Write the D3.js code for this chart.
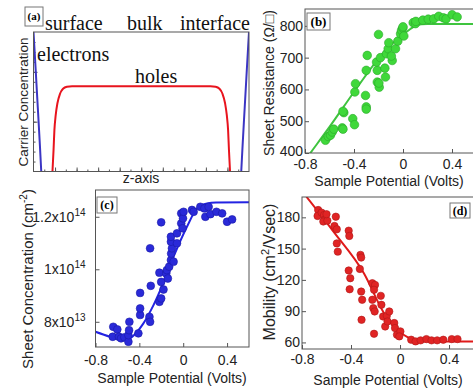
<!DOCTYPE html>
<html>
<head>
<meta charset="utf-8">
<script src="https://cdn.jsdelivr.net/npm/d3@7"></script>
<style>
  body { margin: 0; background: #fff; }
  svg { display: block; font-family: "Liberation Sans", Arial, "DejaVu Sans", sans-serif; }
  .tick text { font-size: 14px; fill: #222; }
  .tick line { stroke: #555; }
  .serif { font-family: "Liberation Serif", "Times New Roman", serif; }
</style>
</head>
<body>
<div id="chart"></div>
<script>
// ---- panel (a): carrier profiles, [z, concentration] ----
const electronsLeft = [[0, 2.8], [0.1, 2.05], [0.2, 1.28], [0.3, 0.5], [0.36, 0]];
const electronsRight = [[9.64, 0], [9.7, 0.5], [9.8, 1.28], [9.9, 2.05], [10, 2.8]];
const holes = [[0.88, 0], [0.93, 0.43], [0.97, 0.83], [1.03, 1.13], [1.11, 1.37], [1.23, 1.56],
  [1.37, 1.66], [1.55, 1.70], [1.79, 1.71], [5, 1.71], [8.21, 1.71], [8.45, 1.70], [8.63, 1.66],
  [8.77, 1.56], [8.89, 1.37], [8.97, 1.13], [9.03, 0.83], [9.07, 0.43], [9.12, 0]];
const regionLabels = ["surface", "bulk", "interface"];

// ---- panel (b): sheet resistance vs sample potential ----
const bPoints = [[-0.633, 440], [-0.61, 452], [-0.592, 456], [-0.578, 466], [-0.565, 475], [-0.496, 479],
  [-0.49, 475], [-0.483, 527], [-0.49, 531], [-0.41, 508], [-0.396, 489], [-0.393, 592], [-0.388, 618],
  [-0.306, 581], [-0.3, 545], [-0.3, 538], [-0.3, 660], [-0.292, 707], [-0.21, 623], [-0.194, 607],
  [-0.197, 620], [-0.21, 660], [-0.2, 773], [-0.216, 686], [-0.184, 700], [-0.143, 639], [-0.148, 667],
  [-0.135, 712], [-0.121, 728], [-0.116, 747], [-0.088, 691], [-0.095, 705], [-0.061, 728], [-0.042, 752],
  [-0.02, 775], [-0.012, 786], [-0.002, 793], [0.007, 768], [0.0, 797], [0.083, 810], [0.102, 807],
  [0.105, 814], [0.162, 818], [0.206, 821], [0.251, 822], [0.292, 830], [0.33, 825], [0.352, 822],
  [0.401, 835], [0.442, 828]];
const bFit = [[-0.8, 377], [-0.76, 398], [-0.6, 482], [-0.4, 592], [-0.2, 697], [-0.1, 740], [-0.02, 765],
  [0.06, 790], [0.1, 800], [0.15, 805], [0.2, 806], [0.6, 806]];
const bYTicks = [400, 500, 600, 700, 800];

// ---- panel (c): sheet concentration (units of 1e13 cm^-2) ----
const cPoints = [[-0.638, 7.81], [-0.601, 7.71], [-0.643, 7.43], [-0.586, 7.43], [-0.567, 7.37], [-0.537, 7.41],
  [-0.5, 7.24], [-0.5, 7.49], [-0.494, 7.68], [-0.491, 8.0], [-0.409, 7.56], [-0.393, 8.26], [-0.393, 8.51],
  [-0.393, 9.10], [-0.308, 8.19], [-0.302, 8.0], [-0.296, 9.37], [-0.302, 10.8], [-0.217, 8.76], [-0.201, 8.89],
  [-0.18, 9.23], [-0.201, 9.52], [-0.217, 9.87], [-0.201, 11.79], [-0.155, 9.84], [-0.149, 9.97], [-0.14, 9.65],
  [-0.128, 10.1], [-0.112, 10.35], [-0.11, 10.6], [-0.103, 10.8], [-0.112, 11.05], [-0.112, 11.24], [-0.088, 10.29],
  [-0.057, 10.99], [-0.057, 11.37], [-0.018, 11.75], [-0.018, 12.13], [-0.002, 11.94], [-0.006, 11.56],
  [0.003, 12.19], [0.08, 12.26], [0.095, 12.19], [0.156, 12.38], [0.193, 12.32], [0.202, 12.0], [0.232, 12.38],
  [0.248, 12.1], [0.303, 12.19], [0.355, 12.13], [0.4, 11.81], [0.446, 11.9]];
const cFit = [[-0.8, 7.62], [-0.668, 7.43], [-0.592, 7.34], [-0.515, 7.34], [-0.363, 7.94], [-0.286, 8.51],
  [-0.21, 9.2], [-0.088, 10.48], [0.034, 11.62], [0.126, 12.32], [0.217, 12.51], [0.3, 12.54], [0.6, 12.55]];
const cYTicks = [8, 10, 12];
const cYMant = ["8", "1", "1.2"];
const cYExp = ["13", "14", "14"];

// ---- panel (d): mobility ----
const dPoints = [[-0.668, 187], [-0.673, 181.3], [-0.64, 184.5], [-0.62, 182.2], [-0.612, 178], [-0.626, 176],
  [-0.593, 176.8], [-0.6, 183], [-0.524, 180.6], [-0.535, 171.7], [-0.516, 168.5], [-0.516, 155], [-0.508, 147.1],
  [-0.419, 167.2], [-0.414, 162.1], [-0.419, 129], [-0.406, 121.6], [-0.411, 111], [-0.323, 144], [-0.317, 141.4],
  [-0.328, 130.5], [-0.317, 108.8], [-0.309, 100.9], [-0.314, 81.7], [-0.226, 116.8], [-0.204, 115.2],
  [-0.212, 110.5], [-0.226, 100.9], [-0.218, 92.9], [-0.212, 68.3], [-0.207, 89.7], [-0.157, 104.7],
  [-0.152, 96.1], [-0.138, 84.9], [-0.121, 75.3], [-0.108, 85.5], [-0.102, 80.1], [-0.088, 89.7],
  [-0.047, 78.6], [-0.041, 73.8], [-0.025, 67.4], [0.003, 70.6], [-0.006, 65.8], [0.091, 62.6], [0.127, 61],
  [0.168, 62], [0.215, 63.2], [0.257, 62], [0.303, 62], [0.353, 62.6], [0.422, 63.2], [0.469, 63.2]];
const dFit = [[-0.764, 199.8], [-0.543, 166.3], [-0.295, 126.4], [-0.13, 88], [0.008, 69], [0.077, 64.2],
  [0.119, 61.5], [0.2, 61], [0.6, 61]];
const dYTicks = [60, 90, 120, 150, 180];

const xTicks = [-0.8, -0.4, 0, 0.4];

const svg = d3.select("#chart").append("svg")
  .attr("width", 473)
  .attr("height", 391);
const defs = svg.append("defs");

function addClip(id, b) {
  defs.append("clipPath").attr("id", id).append("rect")
    .attr("x", b.x0).attr("y", b.y0)
    .attr("width", b.x1 - b.x0).attr("height", b.y1 - b.y0);
}

function drawBox(b) {
  svg.append("rect")
    .attr("x", b.x0).attr("y", b.y0)
    .attr("width", b.x1 - b.x0).attr("height", b.y1 - b.y0)
    .attr("fill", "none").attr("stroke", "#555").attr("stroke-width", 1);
}

function panelTag(x, y, w, h, label, size) {
  svg.append("rect").attr("x", x).attr("y", y).attr("width", w).attr("height", h)
    .attr("fill", "#fff").attr("stroke", "#777").attr("stroke-width", 1);
  svg.append("text").attr("class", "serif")
    .attr("x", x + w / 2).attr("y", y + h / 2)
    .attr("dy", "0.35em")
    .attr("text-anchor", "middle")
    .style("font-weight", "bold").style("font-size", size + "px")
    .text(label);
}

function yLabel(x, y, size, parts) {
  const t = svg.append("text")
    .attr("transform", `translate(${x},${y}) rotate(-90)`)
    .attr("text-anchor", "middle")
    .style("font-size", size + "px").style("fill", "#222");
  parts.forEach(p => {
    const s = t.append("tspan").text(p.t);
    if (p.dy) s.attr("dy", p.dy);
    if (p.fs) s.style("font-size", p.fs + "px");
  });
}

function xLabel(x, y, text) {
  svg.append("text").attr("x", x).attr("y", y)
    .attr("text-anchor", "middle")
    .style("font-size", "14px").style("fill", "#222")
    .text(text);
}

// scatter panel (b, c, d)
function scatterPanel(id, b, xDom, yDom, yTicks, pts, fit, col, r, xPad) {
  const x = d3.scaleLinear().domain(xDom).range([b.x0, b.x1]);
  const y = d3.scaleLinear().domain(yDom).range([b.y1, b.y0]);
  addClip(id, b);

  const xa = svg.append("g").attr("transform", `translate(0,${b.y1})`)
    .call(d3.axisBottom(x).tickValues(xTicks).tickSize(-4).tickPadding(xPad).tickFormat(d => String(d)));
  xa.select(".domain").remove();

  const ya = svg.append("g").attr("transform", `translate(${b.x0},0)`)
    .call(d3.axisLeft(y).tickValues(yTicks).tickSize(-4).tickPadding(2));
  ya.select(".domain").remove();

  const g = svg.append("g").attr("clip-path", `url(#${id})`);
  g.append("path")
    .datum(fit)
    .attr("d", d3.line().x(d => x(d[0])).y(d => y(d[1])).curve(d3.curveMonotoneX))
    .attr("fill", "none").attr("stroke", col.line).attr("stroke-width", 2);

  svg.append("g").selectAll("circle")
    .data(pts)
    .enter()
    .append("circle")
    .attr("cx", d => x(d[0]))
    .attr("cy", d => y(d[1]))
    .attr("r", r)
    .attr("fill", col.dot)
    .attr("stroke", col.edge)
    .attr("stroke-width", 0.6);

  drawBox(b);
  return { x, y, ya };
}

// ---------- panel (a) ----------
const boxA = { x0: 33.5, y0: 32, x1: 249, y1: 171.5 };
const xA = d3.scaleLinear().domain([0, 10]).range([boxA.x0, boxA.x1]);
const yA = d3.scaleLinear().domain([0, 2.8]).range([boxA.y1, boxA.y0]);
addClip("clipA", boxA);

svg.append("g").attr("transform", `translate(0,${boxA.y1})`)
  .call(d3.axisBottom(xA).tickValues(d3.range(0.5, 10, 0.5)).tickSize(-2).tickFormat(""))
  .select(".domain").remove();
svg.append("g").attr("transform", `translate(0,${boxA.y1})`)
  .call(d3.axisBottom(xA).tickValues(d3.range(1, 10, 1)).tickSize(-4).tickFormat(""))
  .select(".domain").remove();
svg.append("g").attr("transform", `translate(${boxA.x0},0)`)
  .call(d3.axisLeft(yA).tickValues(d3.range(0.2, 2.8, 0.2)).tickSize(-2).tickFormat(""))
  .select(".domain").remove();
svg.append("g").attr("transform", `translate(${boxA.x0},0)`)
  .call(d3.axisLeft(yA).tickValues([1, 2]).tickSize(-4).tickFormat(""))
  .select(".domain").remove();

const lineA = d3.line().x(d => xA(d[0])).y(d => yA(d[1])).curve(d3.curveMonotoneX);
const gA = svg.append("g").attr("clip-path", "url(#clipA)");
gA.append("path").datum(holes).attr("d", lineA)
  .attr("fill", "none").attr("stroke", "#e8141e").attr("stroke-width", 2);
[electronsLeft, electronsRight].forEach(s => {
  gA.append("path").datum(s).attr("d", lineA)
    .attr("fill", "none").attr("stroke", "#3b35c4").attr("stroke-width", 2);
});
drawBox(boxA);

// region labels above the panel
[45, 127, 180].forEach((px, i) => {
  svg.append("text").attr("class", "serif")
    .attr("x", px).attr("y", 30)
    .style("font-size", "20px").style("fill", "#111")
    .text(regionLabels[i]);
});
svg.append("text").attr("class", "serif").attr("x", 37).attr("y", 61)
  .style("font-size", "20px").style("fill", "#111").text("electrons");
svg.append("text").attr("class", "serif").attr("x", 135).attr("y", 83)
  .style("font-size", "20px").style("fill", "#111").text("holes");
panelTag(25, 7, 18, 19, "(a)", 11);
xLabel(141, 183, "z-axis");
yLabel(28, 102, 13.5, [{ t: "Carrier Concentration" }]);

// ---------- panel (b) ----------
const boxB = { x0: 305, y0: 9, x1: 476.5, y1: 153 };
const pb = scatterPanel("clipB", boxB, [-0.8, 0.6], [400, 853], bYTicks, bPoints, bFit,
  { dot: "#3fd83a", edge: "#2aa82a", line: "#3fc43f" }, 4.3, 6);
// lowest label sits just above the x tick labels, as in the figure
pb.ya.selectAll(".tick text").filter(d => d === 400).attr("dy", "0.15em");
panelTag(307, 13, 23, 17, "(b)", 13);
xLabel(389, 186, "Sample Potential (Volts)");
yLabel(274, 83, 14, [{ t: "Sheet Resistance (Ω/□)" }]);

// ---------- panel (c) ----------
const boxC = { x0: 95.5, y0: 190, x1: 249, y1: 347 };
const pc = scatterPanel("clipC", boxC, [-0.8, 0.6], [7.04, 13.02], cYTicks, cPoints, cFit,
  { dot: "#2a2ad8", edge: "#1a1aa8", line: "#2323e2" }, 3.9, 8);
pc.ya.call(g => g.selectAll(".tick text").each(function (d, i) {
  const t = d3.select(this);
  t.text(null).attr("x", -10);
  t.append("tspan").text(cYMant[i] + "x10");
  t.append("tspan").attr("dy", "-6").style("font-size", "10px").text(cYExp[i]);
}));
panelTag(97, 197, 20, 16, "(c)", 12);
xLabel(172, 383, "Sample Potential (Volts)");
yLabel(33, 279, 15, [{ t: "Sheet Concentration (cm" }, { t: "-2", dy: -6, fs: 10 }, { t: ")", dy: 6 }]);

// ---------- panel (d) ----------
const boxD = { x0: 302, y0: 197, x1: 476, y1: 349 };
scatterPanel("clipD", boxD, [-0.8, 0.62], [53.7, 199.5], dYTicks, dPoints, dFit,
  { dot: "#e02424", edge: "#b01818", line: "#e01a1a" }, 3.7, 5);
panelTag(450, 203, 20, 15, "(d)", 12);
xLabel(388, 385, "Sample Potential (Volts)");
yLabel(275, 272, 16, [{ t: "Mobility (cm" }, { t: "2", dy: -6, fs: 11 }, { t: "/Vsec)", dy: 6 }]);
</script>
</body>
</html>
